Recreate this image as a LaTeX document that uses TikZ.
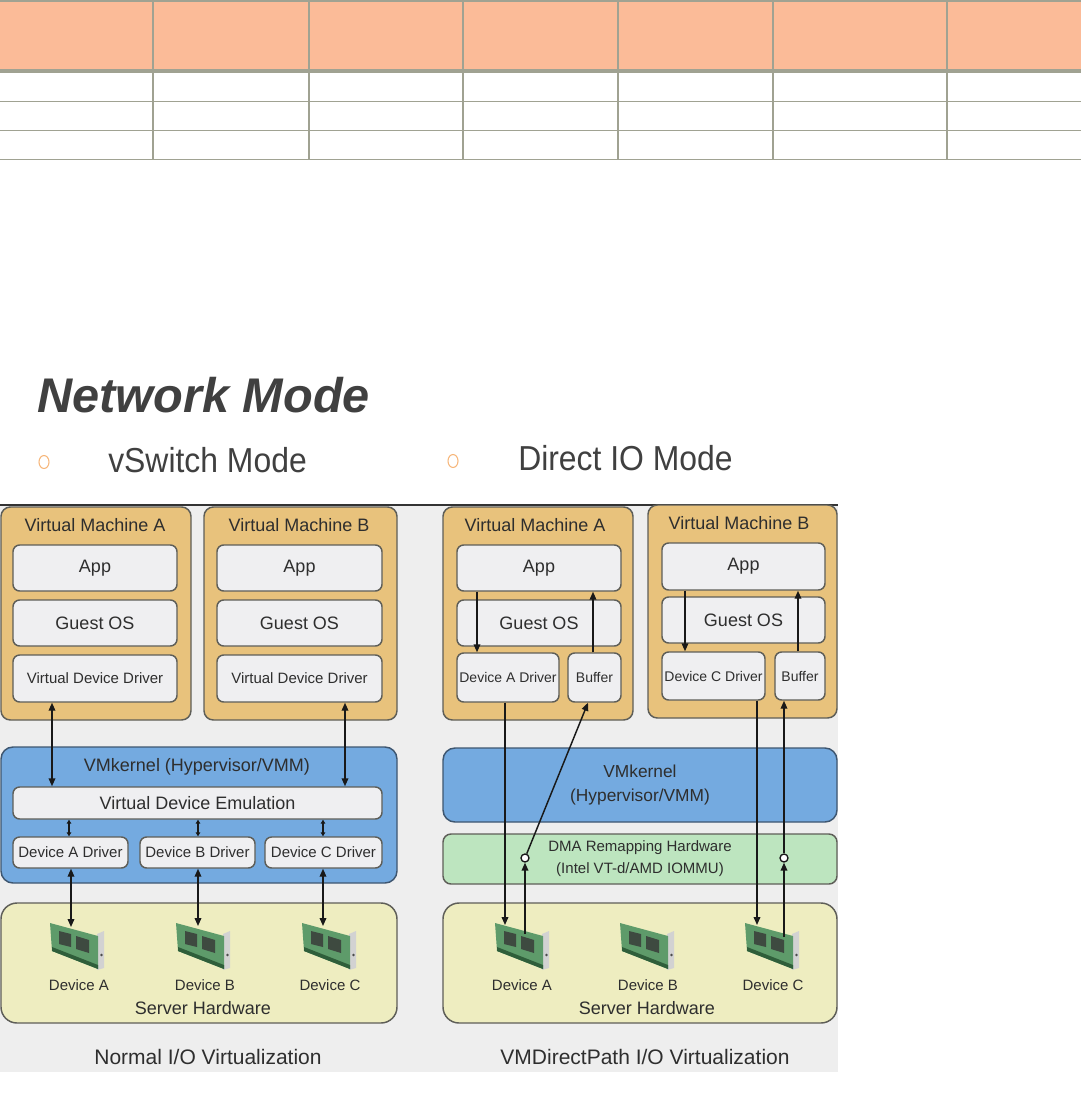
\documentclass[tikz,border=0pt]{standalone}
\usepackage{fontspec}
\setmainfont{Liberation Sans}
\newfontfamily\narrowsans[FakeStretch=0.92]{Liberation Sans}
\usetikzlibrary{arrows.meta,calc,shapes.geometric}
\newcommand\pxu{0.75pt}
\definecolor{hdr}{HTML}{FBBB98}
\definecolor{gridc}{HTML}{A0A292}
\definecolor{vmc}{HTML}{E8C27C}
\definecolor{inc}{HTML}{EFEFF1}
\definecolor{kc}{HTML}{74AAE0}
\definecolor{kedge}{HTML}{3E5670}
\definecolor{gc}{HTML}{BDE5BF}
\definecolor{hc}{HTML}{EEEDC0}
\definecolor{edgec}{HTML}{5E5E58}
\definecolor{txtc}{HTML}{2E2E2E}
\definecolor{bgc}{HTML}{EEEEEE}
\definecolor{ttlc}{HTML}{404040}
\definecolor{bulc}{HTML}{F6B67A}
\definecolor{brdc}{HTML}{5E9B6A}
\definecolor{brddk}{HTML}{2F5E3A}
\definecolor{chipc}{HTML}{3E4A40}
\definecolor{brkc}{HTML}{D2D2D2}
\tikzset{nic/.pic={
  \fill[brkc] (47,12) -- (54,9) -- (54,46) -- (47,48) -- cycle;
  \fill[brdc] (0,1) -- (48,14) -- (48,47) -- (2,29) -- cycle;
  \fill[brddk] (2,29) -- (48,47) -- (48,43) -- (2,25) -- cycle;
  \fill[chipc] (9,9) -- (21,12) -- (21,25) -- (9,22) -- cycle;
  \fill[chipc] (26,14) -- (39,18) -- (39,31) -- (26,27) -- cycle;
  \fill[black!70] (51.5,33) circle (1.3);
}}
% box: style, name, x1, y1, x2, y2, text (pixel coordinates)
\newcommand\bx[7]{\node[#1, minimum width={(#5-#3)*0.75pt}, minimum height={(#6-#4)*0.75pt}] (#2) at ({(#3+#5)/2},{(#4+#6)/2}) {#7};}
\begin{document}
\begin{tikzpicture}[x=0.75pt,y=-0.75pt,
  box/.style={draw=edgec, line width=1.1pt, inner sep=0pt, text=txtc, align=center},
  vmbox/.style={box, fill=vmc, rounded corners=7pt},
  inbox/.style={box, fill=inc, rounded corners=5pt},
  kbox/.style={box, fill=kc, draw=kedge, rounded corners=9pt},
  gbox/.style={box, fill=gc, rounded corners=6pt},
  hbox/.style={box, fill=hc, rounded corners=12pt},
  fL/.style={font=\fontsize{13.5}{16}\selectfont},
  fM/.style={font=\fontsize{11.25}{13}\selectfont},
  fS/.style={font=\fontsize{10.5}{12}\selectfont},
  fC/.style={font=\fontsize{15.75}{18}\selectfont},
  lbl/.style={text=txtc, inner sep=0pt},
  conn/.style={draw=black!90, line width=1.1pt},
  one/.style={conn, -{Triangle[length=6pt,width=5pt]}},
  two/.style={conn, {Triangle[length=6pt,width=5pt]}-{Triangle[length=6pt,width=5pt]}},
  tiny/.style={draw=black!90, line width=0.8pt, {Triangle[length=3pt,width=3.5pt]}-{Triangle[length=3pt,width=3.5pt]}},
  ring/.style={circle, draw=black!90, line width=1pt, fill=white, inner sep=0pt, minimum size=8*\pxu},
  bullet/.style={ellipse, draw=bulc, line width=0.8pt, inner sep=0pt, minimum width=10*\pxu, minimum height=13*\pxu},
]
\useasboundingbox (0,0) rectangle (1081,1097);
% ---------- table ----------
\fill[hdr] (0,1) rectangle (1081,70);
\draw[gridc, line width=1.2pt] (0,1) -- (1081,1);
\draw[gridc, line width=3pt] (0,71) -- (1081,71);
\foreach \yy in {101.3,130.3,159.3} \draw[gridc, line width=1.2pt] (0,\yy) -- (1081,\yy);
\foreach \xx in {153,309,463,618,773,947} \draw[gridc, line width=1.2pt] (\xx,1) -- (\xx,160);
% ---------- heading ----------
\node[anchor=base west, inner sep=0pt, text=ttlc, font=\fontsize{36.5}{40}\selectfont\bfseries\itshape] (title) at (37,412) {Network Mode};
\node[bullet] (b1) at (44,462) {};
\node[anchor=base west, inner sep=0pt, text=ttlc, font=\narrowsans\fontsize{26}{30}\selectfont] (vsw) at (108,472) {vSwitch Mode};
\node[bullet] (b2) at (453,461) {};
\node[anchor=base west, inner sep=0pt, text=ttlc, font=\narrowsans\fontsize{26}{30}\selectfont] (dio) at (518,470) {Direct IO Mode};
% ---------- photo background ----------
\fill[bgc] (0,505) rectangle (838,1072);
\draw[black!80, line width=1.5pt] (0,505) -- (838,505);
% ========== LEFT: Normal I/O ==========
\bx{vmbox}{vmA}{1}{507}{191}{720}{}
\bx{vmbox}{vmB}{204}{507}{397}{720}{}
\node[lbl, fL] (vmAt) at (95,525) {Virtual Machine A};
\node[lbl, fL] (vmBt) at (299,525) {Virtual Machine B};
\bx{inbox, fL}{appA}{13}{545}{177}{591}{App}
\bx{inbox, fL}{gosA}{13}{600}{177}{646}{Guest OS}
\bx{inbox, fM}{vddA}{13}{655}{177}{702}{Virtual Device Driver}
\bx{inbox, fL}{appB}{217}{545}{382}{591}{App}
\bx{inbox, fL}{gosB}{217}{600}{382}{646}{Guest OS}
\bx{inbox, fM}{vddB}{217}{655}{382}{702}{Virtual Device Driver}
\bx{kbox}{vmk}{1}{747}{397}{883}{}
\node[lbl, fL] (vmkt) at (197,767) {VMkernel (Hypervisor/VMM)};
\bx{inbox, fL}{vde}{13}{787}{382}{819}{Virtual Device Emulation}
\bx{inbox, fM}{drvA}{13}{837}{128}{868}{Device A Driver}
\bx{inbox, fM}{drvB}{140}{837}{255}{868}{Device B Driver}
\bx{inbox, fM}{drvC}{265}{837}{382}{868}{Device C Driver}
\bx{hbox}{hw}{1}{903}{397}{1023}{}
\pic at (50,922) {nic};
\pic at (176,922) {nic};
\pic at (302,922) {nic};
\node[lbl, fM] (devA) at (79,985) {Device A};
\node[lbl, fM] (devB) at (205,985) {Device B};
\node[lbl, fM] (devC) at (330,985) {Device C};
\node[lbl, fL] (hwt) at (203,1008) {Server Hardware};
\node[lbl, fC] (capL) at (208,1057) {Normal I/O Virtualization};
% left connectors
\coordinate (xa) at (52,0);
\coordinate (xb) at (345,0);
\coordinate (x1) at (69,0);
\coordinate (x2) at (198,0);
\coordinate (x3) at (323,0);
\coordinate (cA) at (71,927);
\coordinate (cB) at (198,926);
\coordinate (cC) at (323,926);
\draw[two] (vddA.south -| xa) -- (vde.north -| xa);
\draw[two] (vddB.south -| xb) -- (vde.north -| xb);
\draw[tiny] (vde.south -| x1) -- (drvA.north -| x1);
\draw[tiny] (vde.south -| x2) -- (drvB.north -| x2);
\draw[tiny] (vde.south -| x3) -- (drvC.north -| x3);
\draw[two] (drvA.south -| cA) -- (cA);
\draw[two] (drvB.south -| cB) -- (cB);
\draw[two] (drvC.south -| cC) -- (cC);
% ========== RIGHT: VMDirectPath ==========
\bx{vmbox}{vmA2}{443}{507}{633}{720}{}
\bx{vmbox}{vmB2}{648}{505}{837}{718}{}
\node[lbl, fL] (vmA2t) at (535,525) {Virtual Machine A};
\node[lbl, fL] (vmB2t) at (739,523) {Virtual Machine B};
\bx{inbox, fL}{appA2}{457}{545}{621}{591}{App}
\bx{inbox, fL}{gosA2}{457}{600}{621}{646}{Guest OS}
\bx{inbox, fS}{dAd}{457}{653}{559}{702}{Device A Driver}
\bx{inbox, fS}{bufA}{568}{653}{621}{702}{Buffer}
\bx{inbox, fL}{appB2}{662}{543}{825}{590}{App}
\bx{inbox, fL}{gosB2}{662}{597}{825}{643}{Guest OS}
\bx{inbox, fS}{dCd}{662}{652}{765}{700}{Device C Driver}
\bx{inbox, fS}{bufB}{775}{652}{825}{700}{Buffer}
\bx{kbox, font=\fontsize{13}{18}\selectfont}{vmk2}{443}{748}{837}{822}{VMkernel\\(Hypervisor/VMM)}
\bx{gbox, font=\fontsize{11.25}{16.5}\selectfont}{dma}{443}{834}{837}{884}{DMA Remapping Hardware\\(Intel VT-d/AMD IOMMU)}
\bx{hbox}{hw2}{443}{903}{837}{1023}{}
\pic at (495,922) {nic};
\pic at (620,922) {nic};
\pic at (745,922) {nic};
\node[lbl, fM] (devA2) at (522,985) {Device A};
\node[lbl, fM] (devB2) at (648,985) {Device B};
\node[lbl, fM] (devC2) at (773,985) {Device C};
\node[lbl, fL] (hw2t) at (647,1008) {Server Hardware};
\node[lbl, fC] (capR) at (645,1057) {VMDirectPath I/O Virtualization};
% right connectors
\coordinate (r1) at (477,0);
\coordinate (r2) at (593,0);
\coordinate (r3) at (685,0);
\coordinate (r4) at (798,0);
\coordinate (rbA) at (588,0);
\coordinate (rbC) at (784,0);
\coordinate (dnA) at (505,925);
\coordinate (upA) at (525,934);
\coordinate (dnC) at (757,925);
\coordinate (upC) at (784,937);
\node[ring] (oA) at (525,858) {};
\node[ring] (oC) at (784,858) {};
\draw[one] (appA2.south -| r1) -- (dAd.north -| r1);
\draw[one] (bufA.north -| r2) -- (appA2.south -| r2);
\draw[one] (appB2.south -| r3) -- (dCd.north -| r3);
\draw[one] (bufB.north -| r4) -- (appB2.south -| r4);
\draw[one] (dAd.south -| dnA) -- (dnA);
\draw[one] (upA) -- (oA.south);
\draw[one] (oA) -- (bufA.south -| rbA);
\draw[one] (dCd.south -| dnC) -- (dnC);
\draw[one] (upC) -- (oC.south);
\draw[one] (oC) -- (bufB.south -| rbC);
\end{tikzpicture}
\end{document}
